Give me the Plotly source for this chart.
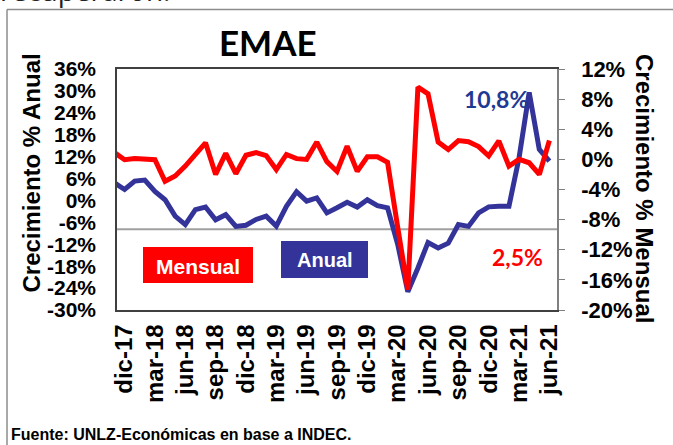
import plotly.graph_objects as go

# ---- data ----
months = ["nov-17", "dic-17", "ene-18", "feb-18", "mar-18", "abr-18", "may-18", "jun-18",
          "jul-18", "ago-18", "sep-18", "oct-18", "nov-18", "dic-18", "ene-19", "feb-19",
          "mar-19", "abr-19", "may-19", "jun-19", "jul-19", "ago-19", "sep-19", "oct-19",
          "nov-19", "dic-19", "ene-20", "feb-20", "mar-20", "abr-20", "may-20", "jun-20",
          "jul-20", "ago-20", "sep-20", "oct-20", "nov-20", "dic-20", "ene-21", "feb-21",
          "mar-21", "abr-21", "may-21", "jun-21"]

anual = [4.8, 3.0, 5.3, 5.6, 2.5, 0.2, -4.3, -6.6, -2.5, -1.8, -5.3, -3.9, -7.1, -6.8,
         -5.2, -4.3, -7.0, -1.6, 2.4, -0.2, 0.7, -3.4, -2.0, -0.5, -1.8, 0.2, -1.4, -2.0,
         -12.0, -25.0, -18.5, -11.5, -13.0, -11.7, -6.6, -7.1, -3.4, -1.75, -1.6, -1.6,
         11.7, 29.6, 14.0, 10.8]

mensual = [0.9, -0.05, 0.1, 0.1, -0.05, -2.9, -2.2, -0.9, 0.6, 2.2, -2.0, 0.8, -1.9, 0.55,
           0.9, 0.5, -1.35, 0.65, 0.1, 0.0, 2.3, -0.3, -1.6, 1.75, -1.6, 0.35, 0.35, -0.4,
           -9.0, -17.3, 9.6, 8.7, 2.3, 1.3, 2.5, 2.35, 1.7, 0.45, 2.45, -0.9,
           0.0, -0.45, -2.0, 2.5]

tick_months = ["dic-17", "mar-18", "jun-18", "sep-18", "dic-18", "mar-19", "jun-19",
               "sep-19", "dic-19", "mar-20", "jun-20", "sep-20", "dic-20", "mar-21", "jun-21"]

left_ticks = [36, 30, 24, 18, 12, 6, 0, -6, -12, -18, -24, -30]
right_ticks = [12, 8, 4, 0, -4, -8, -12, -16, -20]

RED = "#FF0000"
BLUE = "#333399"
FONT = "Liberation Sans"
CAL = "Lato"

fig = go.Figure()
fig.add_trace(go.Scatter(x=months, y=anual, mode="lines", name="Anual",
                         line=dict(color=BLUE, width=5), yaxis="y"))
fig.add_trace(go.Scatter(x=months, y=mensual, mode="lines", name="Mensual",
                         line=dict(color=RED, width=5), yaxis="y2"))

L, R, T, B = 117, 116, 69, 135
W, H = 673, 445
pw, ph = W - L - R, H - T - B


def px(x):
    return (x - L) / pw


def py(y):
    return (H - B - y) / ph


fig.update_layout(
    width=W, height=H,
    margin=dict(l=L, r=R, t=T, b=B),
    paper_bgcolor="white", plot_bgcolor="white",
    showlegend=False,
    xaxis=dict(
        type="category", range=[0.25, 43.75],
        tickmode="array", tickvals=tick_months, ticktext=tick_months,
        tickangle=-90, tickfont=dict(family=FONT, size=24, color="black", weight="bold"),
        showgrid=False, zeroline=False, ticks="", ticklabelstandoff=3,
        showline=True, linecolor="#404040", linewidth=1.5, mirror=True,
    ),
    yaxis=dict(
        range=[-30, 36], tickmode="array", tickvals=left_ticks,
        ticktext=[f"{v}%" for v in left_ticks],
        tickfont=dict(family=FONT, size=21, color="black", weight="bold"),
        showgrid=False, zeroline=False, ticks="", ticklabelstandoff=15,
        showline=True, linecolor="#404040", linewidth=1.5,
    ),
    yaxis2=dict(
        range=[-20, 12], overlaying="y", side="right", tickmode="array",
        tickvals=right_ticks, ticktext=[f"{v}%" for v in right_ticks],
        tickfont=dict(family=FONT, size=22, color="black", weight="bold"),
        showgrid=False, zeroline=False, ticks="outside", ticklen=6,
        tickcolor="#808080", ticklabelstandoff=12,
        showline=True, linecolor="#808080", linewidth=1.5,
    ),
)

shapes = [
    # horizontal reference line inside the plot
    dict(type="line", xref="paper", yref="paper", x0=0, x1=1, y0=py(229.3), y1=py(229.3),
         line=dict(color="#A0A0A0", width=2), layer="below"),
    # outer frame
    dict(type="line", xref="paper", yref="paper", x0=px(7), x1=px(673), y0=py(9.5), y1=py(9.5),
         line=dict(color="#8C8C8C", width=1.5)),
    dict(type="line", xref="paper", yref="paper", x0=px(7), x1=px(7), y0=py(9.5), y1=py(445),
         line=dict(color="#8C8C8C", width=1.5)),
    # legend boxes
    dict(type="rect", xref="paper", yref="paper", x0=px(143), x1=px(253), y0=py(283), y1=py(247),
         fillcolor=RED, line=dict(width=0)),
    dict(type="rect", xref="paper", yref="paper", x0=px(281), x1=px(368), y0=py(278), y1=py(241),
         fillcolor=BLUE, line=dict(width=0)),
]
fig.update_layout(shapes=shapes)

ann = [
    dict(text="EMAE", x=px(268), y=py(42), font=dict(family=CAL, size=35,
                                                     color="black", weight="bold")),
    dict(text="Crecimiento % Anual", x=px(31), y=py(173.5), textangle=-90,
         font=dict(family=FONT, size=24, color="black", weight="bold")),
    dict(text="Crecimiento % Mensual", x=px(645), y=py(188), textangle=90,
         font=dict(family=FONT, size=24, color="black", weight="bold")),
    dict(text="Mensual", x=px(198), y=py(266), font=dict(family=FONT, size=21, color="white",
                                                          weight="bold")),
    dict(text="Anual", x=px(324.5), y=py(260), font=dict(family=FONT, size=20, color="white",
                                                          weight="bold")),
    dict(text="10,8%", x=px(496), y=py(99), font=dict(family=CAL, size=23,
                                                       color="#1F3A93", weight="bold")),
    dict(text="2,5%", x=px(517), y=py(257), font=dict(family=CAL, size=23,
                                                       color=RED, weight="bold")),
    dict(text="Fuente: UNLZ-Económicas en base a INDEC.", x=px(9), y=py(434.5), xanchor="left",
         font=dict(family=FONT, size=16, color="black", weight="bold")),
    dict(text="recuperaron.", x=px(-2), y=py(11), xanchor="left", yanchor="bottom",
         font=dict(family="Open Sans", size=28, color="#222222")),
]
for a in ann:
    a.setdefault("xref", "paper")
    a.setdefault("yref", "paper")
    a.setdefault("showarrow", False)
    a.setdefault("xanchor", "center")
    a.setdefault("yanchor", "middle")
fig.update_layout(annotations=ann)

fig.write_html("out.html", config={"displayModeBar": False},
               post_script="document.body.style.margin='0';document.body.style.overflow='hidden';")
